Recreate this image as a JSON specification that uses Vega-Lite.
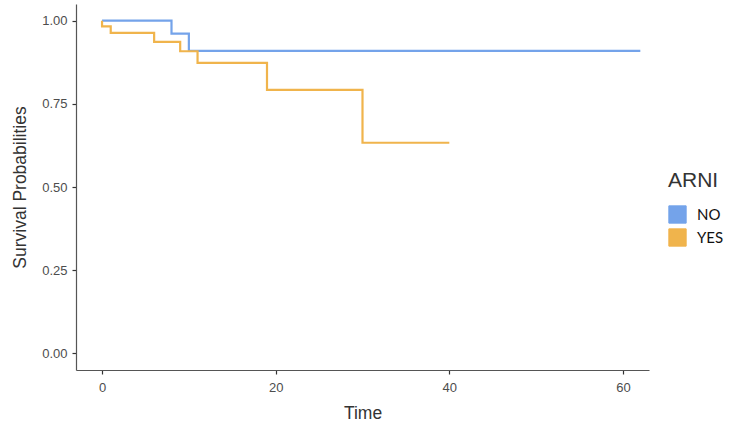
{
  "$schema": "https://vega.github.io/schema/vega-lite/v6.json",
  "width": 573,
  "height": 366,
  "autosize": {"type": "none"},
  "padding": {"left": 76, "top": 4, "right": 101, "bottom": 52},
  "background": "white",
  "data": {
    "values": [
      {"time": 0, "surv": 1.0, "ARNI": "NO"},
      {"time": 8, "surv": 0.961, "ARNI": "NO"},
      {"time": 10, "surv": 0.909, "ARNI": "NO"},
      {"time": 62, "surv": 0.909, "ARNI": "NO"},
      {"time": 0, "surv": 1.0, "ARNI": "YES"},
      {"time": 0, "surv": 0.983, "ARNI": "YES"},
      {"time": 1, "surv": 0.963, "ARNI": "YES"},
      {"time": 6, "surv": 0.936, "ARNI": "YES"},
      {"time": 9, "surv": 0.908, "ARNI": "YES"},
      {"time": 11, "surv": 0.873, "ARNI": "YES"},
      {"time": 19, "surv": 0.792, "ARNI": "YES"},
      {"time": 30, "surv": 0.633, "ARNI": "YES"},
      {"time": 40, "surv": 0.633, "ARNI": "YES"}
    ]
  },
  "mark": {"type": "line", "interpolate": "step-after", "strokeWidth": 2.2, "clip": true},
  "encoding": {
    "x": {
      "field": "time",
      "type": "quantitative",
      "title": "Time",
      "scale": {"domain": [-3, 63], "nice": false, "zero": false},
      "axis": {
        "values": [0, 20, 40, 60],
        "grid": false,
        "domainColor": "#555555",
        "domainWidth": 1.2,
        "tickColor": "#333333",
        "tickSize": 4,
        "tickWidth": 1.2,
        "labelFont": "Liberation Sans",
        "labelFontSize": 13,
        "labelColor": "#4d4d4d",
        "labelPadding": 7,
        "titleFont": "Liberation Sans",
        "titleFontSize": 17.5,
        "titleFontWeight": "normal",
        "titleColor": "#333333",
        "titlePadding": 10
      }
    },
    "y": {
      "field": "surv",
      "type": "quantitative",
      "title": "Survival Probabilities",
      "scale": {"domain": [-0.05, 1.05], "nice": false, "zero": false},
      "axis": {
        "values": [0, 0.25, 0.5, 0.75, 1],
        "format": ".2f",
        "grid": false,
        "domainColor": "#555555",
        "domainWidth": 1.2,
        "tickColor": "#333333",
        "tickSize": 4,
        "tickWidth": 1.2,
        "labelFont": "Liberation Sans",
        "labelFontSize": 13,
        "labelColor": "#4d4d4d",
        "labelPadding": 5,
        "titleFont": "Liberation Sans",
        "titleFontSize": 17.5,
        "titleFontWeight": "normal",
        "titleColor": "#333333",
        "titlePadding": 12
      }
    },
    "color": {
      "field": "ARNI",
      "type": "nominal",
      "scale": {"domain": ["NO", "YES"], "range": ["#74a3ea", "#f0b44c"]},
      "legend": {
        "orient": "none",
        "legendX": 592,
        "legendY": 166,
        "title": "ARNI",
        "titleFont": "Liberation Sans",
        "titleFontSize": 21,
        "titleFontWeight": "normal",
        "titleColor": "#333333",
        "titlePadding": 14,
        "symbolType": "square",
        "symbolSize": 300,
        "symbolStrokeWidth": 1,
        "symbolOpacity": 1,
        "labelFont": "Lato",
        "labelFontSize": 15,
        "labelColor": "#111111",
        "labelOffset": 10,
        "rowPadding": 0,
        "encode": {
          "symbols": {
            "update": {
              "fill": {"signal": "datum.value === 'NO' ? '#74a3ea' : '#f0b44c'"},
              "stroke": {"signal": "datum.value === 'NO' ? '#4a7cc4' : '#c99235'"},
              "strokeWidth": {"value": 1}
            }
          }
        }
      }
    }
  },
  "config": {"view": {"stroke": null}}
}
